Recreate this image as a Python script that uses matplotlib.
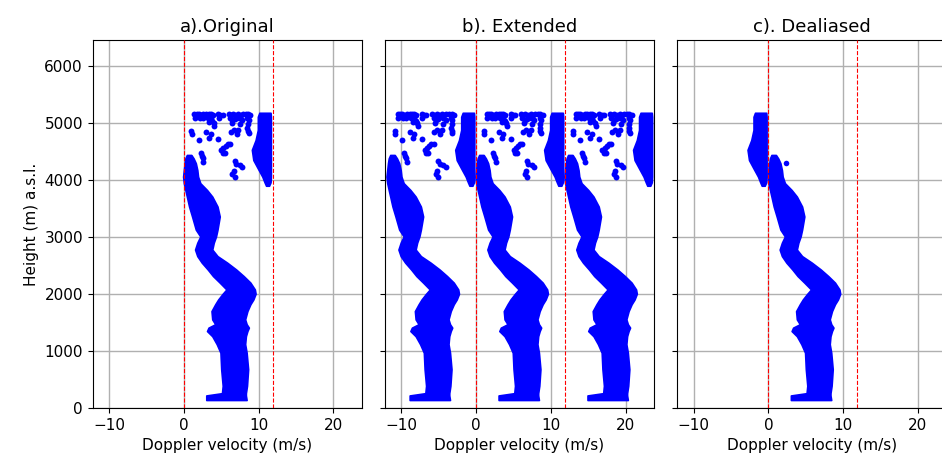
import numpy as np
import matplotlib
matplotlib.use('Agg')
import matplotlib.pyplot as plt

# velocity interval width (m/s) - red dashed lines at 0 and this value
v_int = 11.9

# main echo band: height, left edge, right edge
band_h = [140, 220, 260, 390, 680, 970, 1120, 1260, 1350, 1410, 1470, 1555, 1700,
          1820, 1905, 2005, 2080, 2200, 2315, 2430, 2550, 2665, 2780, 2900, 3010,
          3130, 3360, 3535, 3710, 3825, 3945, 4060, 4175, 4295, 4380, 4440]
band_l = [3.0, 3.0, 5.1, 5.2, 5.0, 4.9, 4.4, 3.8, 3.1, 3.3, 4.2, 3.8, 3.7,
          4.2, 4.6, 5.2, 5.7, 4.8, 3.9, 3.2, 2.4, 1.8, 1.5, 1.8, 2.2,
          1.6, 1.1, 0.7, 0.4, 0.2, 0.0, -0.1, 0.0, 0.1, 0.2, 0.4]
band_r = [8.4, 8.3, 8.3, 8.45, 8.6, 8.4, 8.2, 8.3, 8.5, 8.7, 8.4, 8.2, 8.5,
          8.9, 9.3, 9.6, 9.5, 8.9, 8.0, 7.0, 5.8, 4.5, 3.8, 4.0, 4.3,
          4.5, 4.8, 4.5, 3.8, 3.1, 2.2, 1.9, 1.8, 1.6, 1.3, 1.0]

# aliased strip near the upper limit (4000-5200 m)
strip_h = [3900, 3960, 4060, 4180, 4350, 4530, 4700, 4880, 5110, 5180]
strip_l = [11.0, 10.8, 10.5, 10.0, 9.3, 9.1, 9.6, 9.9, 9.9, 10.1]
strip_r = [11.4, 11.6, 11.65, 11.65, 11.65, 11.65, 11.65, 11.65, 11.65, 11.6]

# scattered noise points (velocity, height) in panel a
noise_v = [1.4, 1.7, 2.0, 2.3, 2.6, 1.5, 2.1, 2.5,
           3.0, 3.3, 3.6, 3.9, 3.2, 3.6, 3.4, 3.8, 4.0, 4.1,
           4.6, 4.9, 4.7, 5.2,
           6.0, 6.3, 6.6, 6.9, 6.2, 6.5, 6.8, 6.4, 6.3, 6.7,
           7.3, 7.6, 7.9, 7.4, 7.8, 7.5,
           8.3, 8.6, 8.9, 8.5, 8.7, 8.6, 8.5, 8.6, 8.7,
           1.0, 1.1, 2.0, 3.0, 3.4, 3.6, 4.6, 7.3, 7.1,
           5.0, 5.3, 5.6, 5.9, 6.2, 5.2, 5.5,
           2.3, 2.4, 2.5, 2.6, 6.8, 7.0, 7.5, 7.8, 6.5, 6.7, 6.8]
noise_h = [5150, 5160, 5150, 5140, 5150, 5090, 5080, 5090,
           5150, 5160, 5150, 5140, 5090, 5080, 5020, 5030, 5000, 4940,
           5150, 5140, 5080, 5140,
           5150, 5140, 5150, 5140, 5080, 5060, 5070, 5000, 4850, 4880,
           5150, 5140, 5150, 5080, 5050, 4990,
           5160, 5150, 5140, 5090, 5050, 4980, 4920, 4860, 4820,
           4860, 4810, 4700, 4850, 4740, 4800, 4720, 4880, 4800,
           4530, 4560, 4600, 4630, 4640, 4480, 4470,
           4470, 4430, 4380, 4320, 4340, 4280, 4260, 4230, 4100, 4150, 4050]

# points that survive dealiasing outside the band (panel c)
kept_v = [2.4]
kept_h = [4300]

titles = ['a).Original', 'b). Extended', 'c). Dealiased']
blue = '#0000ff'

fig = plt.figure(figsize=(9.42, 4.59), dpi=100)
lefts = [92.7, 385.0, 677.3]
axes = []
for i, x0 in enumerate(lefts):
    ax = fig.add_axes([x0 / 942, 51 / 459, 269 / 942, 367.6 / 459],
                      sharey=axes[0] if axes else None)
    axes.append(ax)


def draw_shape(ax, h, l, r, shift=0.0):
    l2 = np.array(l) + shift
    r2 = np.array(r) + shift
    ax.fill_betweenx(h, l2, r2, color=blue, lw=1.2, edgecolor=blue, zorder=2)


for i, ax in enumerate(axes):
    if i == 0:
        draw_shape(ax, band_h, band_l, band_r)
        draw_shape(ax, strip_h, strip_l, strip_r)
        ax.scatter(noise_v, noise_h, s=18, color=blue, lw=0, zorder=2)
    elif i == 1:
        for sh in [-v_int, 0, v_int]:
            draw_shape(ax, band_h, band_l, band_r, sh)
            draw_shape(ax, strip_h, strip_l, strip_r, sh)
            ax.scatter(np.array(noise_v) + sh, noise_h, s=18, color=blue, lw=0, zorder=2)
    else:
        draw_shape(ax, band_h, band_l, band_r)
        draw_shape(ax, strip_h, strip_l, strip_r, -v_int)
        ax.scatter(kept_v, kept_h, s=16, color=blue, lw=0, zorder=2)

    ax.axvline(0, color='red', ls='--', lw=0.8, zorder=3)
    ax.axvline(v_int, color='red', ls='--', lw=0.8, zorder=3)
    ax.set_xlim(-12.2, 23.8)
    ax.set_ylim(0, 6450)
    ax.set_xticks([-10, 0, 10, 20])
    ax.set_yticks(range(0, 7000, 1000))
    ax.grid(True, color='#b0b0b0', lw=1.0)
    ax.set_axisbelow(True)
    ax.set_title(titles[i], fontsize=13)
    ax.set_xlabel('Doppler velocity (m/s)', fontsize=11)
    ax.tick_params(labelsize=11)
    if i > 0:
        ax.tick_params(labelleft=False)

axes[0].set_ylabel('Height (m) a.s.l.', fontsize=11)

plt.savefig('out.png', dpi=100)
